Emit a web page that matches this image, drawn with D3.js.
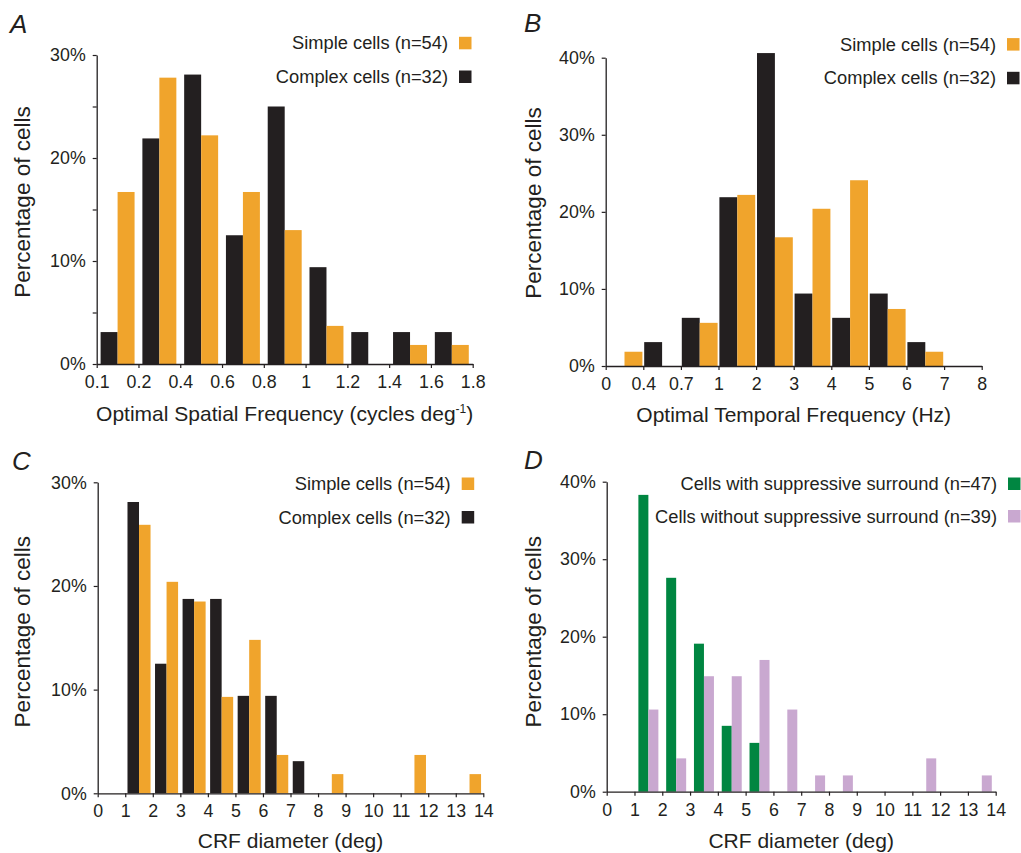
<!DOCTYPE html>
<html>
<head>
<meta charset="utf-8">
<script src="https://cdn.jsdelivr.net/npm/d3@7"></script>
<style>
  body { margin: 0; background: #fff; }
  svg { display: block; font-family: "Liberation Sans", Arial, sans-serif; }
</style>
</head>
<body>
<div id="chart"></div>
<script>
// Bin edges (tick labels) and percentages per bin
const spatialTicks = ["0.1", "0.2", "0.4", "0.6", "0.8", "1", "1.2", "1.4", "1.6", "1.8"];
const spatialComplex = [3.1, 21.9, 28.1, 12.5, 25.0, 9.4, 3.1, 3.1, 3.1];
const spatialSimple = [16.7, 27.8, 22.2, 16.7, 13.0, 3.7, 0, 1.85, 1.85];

const temporalTicks = ["0", "0.4", "0.7", "1", "2", "3", "4", "5", "6", "7", "8"];
const temporalComplex = [0, 3.1, 6.25, 21.9, 40.6, 9.4, 6.25, 9.4, 3.1, 0];
const temporalSimple = [1.85, 0, 5.6, 22.2, 16.7, 20.4, 24.1, 7.4, 1.85, 0];

const crfTicks = ["0", "1", "2", "3", "4", "5", "6", "7", "8", "9", "10", "11", "12", "13", "14"];
const crfComplex = [0, 28.1, 12.5, 18.75, 18.75, 9.4, 9.4, 3.1, 0, 0, 0, 0, 0, 0];
const crfSimple = [0, 25.9, 20.4, 18.5, 9.3, 14.8, 3.7, 0, 1.85, 0, 0, 3.7, 0, 1.85];

const surroundWith = [0, 38.3, 27.6, 19.1, 8.5, 6.3, 0, 0, 0, 0, 0, 0, 0, 0];
const surroundWithout = [0, 10.6, 4.3, 14.9, 14.9, 17.0, 10.6, 2.1, 2.1, 0, 0, 4.3, 0, 2.1];

const ink = "#231f20";
const orange = "#f0a42c";
const green = "#008641";
const lilac = "#c9a8d0";

const svg = d3.select("#chart")
  .append("svg")
  .attr("width", 1021)
  .attr("height", 853);

function drawPanel(p) {
  const g = svg.append("g");

  const x = d3.scalePoint().domain(p.ticks).range([p.x0, p.x1]);
  const y = d3.scaleLinear().domain([0, p.ymax]).range([p.y0, p.yTop]);
  // position of the two bars inside one bin
  const sub = d3.scaleBand().domain([0, 1]).range([0, x.step()]).paddingOuter(p.pad);

  // bars
  p.series.forEach((s, si) => {
    g.append("g").selectAll("rect")
      .data(s.values)
      .join("rect")
      .attr("x", (d, i) => x(p.ticks[i]) + sub(si))
      .attr("y", d => y(d))
      .attr("width", sub.bandwidth())
      .attr("height", d => y(0) - y(d))
      .attr("fill", s.color);
  });

  // x axis
  const xa = g.append("g")
    .attr("transform", `translate(0,${p.y0})`)
    .call(d3.axisBottom(x).tickSize(4).tickSizeOuter(0).tickPadding(7.5));

  // y axis
  const ya = g.append("g")
    .attr("transform", `translate(${p.x0},0)`)
    .call(d3.axisLeft(y).tickValues(p.yticks).tickSize(4).tickSizeOuter(0).tickPadding(7)
      .tickFormat(d => d % 10 === 0 ? d + "%" : ""));

  [xa, ya].forEach(a => {
    a.attr("font-family", null).attr("font-size", null);
    a.select(".domain").attr("stroke", ink).attr("stroke-width", 1.3);
    a.selectAll(".tick line").attr("stroke", ink).attr("stroke-width", 1.2);
    a.selectAll(".tick text").attr("fill", ink).style("font-size", "17.8px");
  });

  // axis titles
  const xt = g.append("text")
    .attr("x", (p.x0 + p.x1) / 2)
    .attr("y", p.xTitleY)
    .attr("text-anchor", "middle")
    .attr("fill", ink)
    .style("font-size", "21px")
    .text(p.xTitle);
  if (p.xTitleSup) {
    xt.append("tspan").attr("dy", -8).style("font-size", "12px").text(p.xTitleSup);
    xt.append("tspan").attr("dy", 8).text(")");
  }

  g.append("text")
    .attr("transform", `translate(${p.yTitleX},${p.yTitleY}) rotate(-90)`)
    .attr("text-anchor", "middle")
    .attr("fill", ink)
    .style("font-size", "22.5px")
    .text("Percentage of cells");

  // panel letter
  g.append("text")
    .attr("x", p.letterX)
    .attr("y", p.letterY)
    .attr("fill", ink)
    .style("font-size", "26px")
    .style("font-style", "italic")
    .text(p.letter);

  // legend
  p.legend.forEach((l, i) => {
    g.append("text")
      .attr("x", p.legX)
      .attr("y", p.legY[i])
      .attr("text-anchor", "end")
      .attr("fill", ink)
      .style("font-size", "18.3px")
      .text(l.label);
    g.append("rect")
      .attr("x", p.legX + 11)
      .attr("y", p.legY[i] - 12.5)
      .attr("width", 12.5)
      .attr("height", 12.5)
      .attr("fill", l.color);
  });
}

const cellLegend = [
  { label: "Simple cells (n=54)", color: orange },
  { label: "Complex cells (n=32)", color: ink }
];

drawPanel({
  letter: "A", letterX: 10, letterY: 32.5,
  ticks: spatialTicks, x0: 96.7, x1: 472.7, pad: 0.23,
  ymax: 30, y0: 364, yTop: 55, yticks: [0, 5, 10, 15, 20, 25, 30],
  series: [{ values: spatialComplex, color: ink }, { values: spatialSimple, color: orange }],
  xTitle: "Optimal Spatial Frequency (cycles deg", xTitleSup: "-1", xTitleY: 420.5,
  yTitleX: 30, yTitleY: 202,
  legend: cellLegend, legX: 448, legY: [49.3, 83]
});

drawPanel({
  letter: "B", letterX: 524, letterY: 32.3,
  ticks: temporalTicks, x0: 605.7, x1: 981.7, pad: 0.05,
  ymax: 40, y0: 366, yTop: 57.7, yticks: [0, 10, 20, 30, 40],
  series: [{ values: temporalComplex, color: ink }, { values: temporalSimple, color: orange }],
  xTitle: "Optimal Temporal Frequency (Hz)", xTitleY: 422,
  yTitleX: 540.5, yTitleY: 203,
  legend: cellLegend, legX: 996, legY: [50.6, 84.3]
});

drawPanel({
  letter: "C", letterX: 12, letterY: 470,
  ticks: crfTicks, x0: 97.7, x1: 483.3, pad: 0.195,
  ymax: 30, y0: 793.3, yTop: 482.3, yticks: [0, 10, 20, 30],
  series: [{ values: crfComplex, color: ink }, { values: crfSimple, color: orange }],
  xTitle: "CRF diameter (deg)", xTitleY: 848,
  yTitleX: 30, yTitleY: 631.7,
  legend: cellLegend, legX: 450.7, legY: [490, 523.5]
});

drawPanel({
  letter: "D", letterX: 524, letterY: 469.3,
  ticks: crfTicks, x0: 606.7, x1: 995.7, pad: 0.39,
  ymax: 40, y0: 791.7, yTop: 481.7, yticks: [0, 10, 20, 30, 40],
  series: [{ values: surroundWith, color: green }, { values: surroundWithout, color: lilac }],
  xTitle: "CRF diameter (deg)", xTitleY: 848,
  yTitleX: 540.5, yTitleY: 631.7,
  legend: [
    { label: "Cells with suppressive surround (n=47)", color: green },
    { label: "Cells without suppressive surround (n=39)", color: lilac }
  ],
  legX: 997, legY: [490, 522.5]
});
</script>
</body>
</html>
